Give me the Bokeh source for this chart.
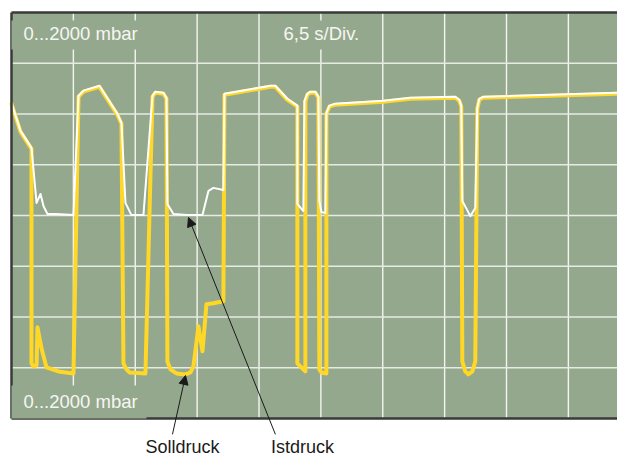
from bokeh.plotting import figure
from bokeh.models import Range1d, BoxAnnotation, Label, Arrow, NormalHead
from bokeh.embed import file_html
from bokeh.resources import INLINE

# time axis: 6,5 s per division ; pressure axis: 0...2000 mbar over 8 divisions
T_DIV = 6.5
P_DIV = 250
T_MAX = 63.66
P_MAX = 2000

# Istdruck (actual pressure, white trace)
ist_t = [0, 0.95, 2.10, 2.63, 3.05, 3.36, 3.78, 4.62, 6.51, 7.04,
         7.56, 9.24, 11.13, 11.55, 11.97, 12.60, 13.86, 14.81, 15.12, 15.96,
         16.28, 16.38, 17.01, 18.48, 20.06, 20.69, 21.21, 22.26, 22.37, 27.20,
         27.72, 28.98, 30.03, 30.03, 30.66, 30.77, 31.08, 31.40, 31.92, 32.24,
         32.34, 32.55, 32.97, 33.08, 33.39, 34.02, 39.06, 41.90, 46.62, 47.04,
         47.25, 47.36, 48.20, 48.72, 48.93, 49.14, 49.56, 63.66]
ist_p = [1555, 1417, 1333, 1062, 1106, 1047, 1007, 1007, 1002, 1590,
         1615, 1639, 1501, 1457, 1062, 1002, 1002, 1590, 1610, 1605,
         1580, 1057, 1007, 1002, 1002, 1121, 1136, 1126, 1600, 1639,
         1639, 1575, 1541, 1057, 1022, 1565, 1600, 1610, 1610, 1585,
         1072, 1017, 1012, 1506, 1541, 1551, 1565, 1580, 1585, 1570,
         1541, 1072, 997, 1037, 1531, 1575, 1585, 1605]

# Solldruck (set pressure, yellow trace)
soll_t = [0, 0.95, 2.10, 2.10, 2.31, 2.63, 2.73, 3.15, 3.67, 4.93,
          6.51, 7.04, 7.56, 9.24, 11.13, 11.55, 11.76, 12.08, 12.39, 14.07,
          14.81, 15.12, 15.96, 16.28, 16.38, 16.70, 17.33, 18.27, 18.80, 19.11,
          19.64, 20.06, 20.48, 21.21, 22.26, 22.37, 27.20, 27.72, 28.98, 30.03,
          30.03, 30.87, 30.87, 31.08, 31.40, 31.92, 32.24, 32.34, 32.55, 33.08,
          33.08, 33.39, 34.02, 39.06, 41.90, 46.62, 47.04, 47.25, 47.36, 47.67,
          47.99, 48.41, 48.72, 48.93, 49.14, 49.56, 63.66]
soll_p = [1550, 1412, 1328, 272, 257, 262, 449, 346, 252, 232,
          222, 1585, 1610, 1634, 1496, 1452, 272, 242, 227, 222,
          1585, 1605, 1600, 1575, 281, 242, 222, 217, 227, 257,
          454, 331, 563, 568, 578, 1595, 1634, 1634, 1570, 1536,
          272, 232, 1560, 1595, 1605, 1605, 1580, 242, 227, 222,
          1501, 1536, 1546, 1560, 1575, 1580, 1565, 1536, 281, 232,
          217, 232, 281, 1526, 1570, 1580, 1600]

range_label = "0...2000 mbar"
time_label = "6,5 s/Div."
soll_label = "Solldruck"
ist_label = "Istdruck"

GREEN = "#94a88e"
YELLOW = "#ffd726"
BORDER = "#3a3a3a"
INK = "#1a1a1a"
FONT = "Liberation Sans"

# whole canvas is the frame so that the notes below the screen can be drawn
p = figure(width=617, height=461, output_backend="svg", toolbar_location=None,
           x_range=Range1d(-1.156, T_MAX), y_range=Range1d(-211.8, 2059.1),
           x_axis_location=None, y_axis_location=None, min_border=0)
p.background_fill_color = "white"
p.border_fill_color = "white"
p.outline_line_color = None
p.xgrid.visible = False
p.ygrid.visible = False

# oscilloscope screen
p.add_layout(BoxAnnotation(left=0, bottom=0, top=P_MAX, fill_color=GREEN, fill_alpha=1,
                           line_color=None, level="image"))

# graticule
vx = [i * T_DIV for i in range(1, int(T_MAX // T_DIV) + 1)]
hy = [j * P_DIV for j in range(1, int(P_MAX // P_DIV))]
p.segment(x0=vx, y0=[0] * len(vx), x1=vx, y1=[P_MAX] * len(vx),
          line_color="#f4f5f0", line_width=1.4, level="underlay")
p.segment(x0=[0] * len(hy), y0=hy, x1=[T_MAX] * len(hy), y1=hy,
          line_color="#e6ebe3", line_width=1.4, level="underlay")

# traces
p.line(soll_t, soll_p, line_color=YELLOW, line_width=4, line_join="round", line_cap="round")
p.line(ist_t, ist_p, line_color="white", line_width=2, line_join="round", line_cap="round")

# screen border (left, top, bottom)
p.segment(x0=[0, 0, 0], y0=[0, P_MAX, 0], x1=[0, T_MAX, T_MAX], y1=[P_MAX, P_MAX, 0],
          line_color=BORDER, line_width=2.5)

# label backgrounds that hide the graticule
for l, r, b, t in [(0, 14.18, 1818, 1961), (27.84, 37.19, 1818, 1961), (0, 14.18, 0, 163)]:
    p.add_layout(BoxAnnotation(left=l, right=r, bottom=b, top=t,
                               fill_color=GREEN, fill_alpha=1, line_color=None))

lab_kw = dict(text_color="#f6f6f2", text_font=FONT, text_font_size="18.5px",
              text_baseline="alphabetic")
p.add_layout(Label(x=1.26, y=1896, text=range_label, **lab_kw))
p.add_layout(Label(x=28.57, y=1896, text=time_label, **lab_kw))
p.add_layout(Label(x=1.26, y=83, text=range_label, **lab_kw))

# notes below the screen
ann_kw = dict(text_color=INK, text_font=FONT, text_font_size="18px",
              text_baseline="alphabetic", text_align="center")
p.add_layout(Label(x=17.96, y=-141, text=soll_label, **ann_kw))
p.add_layout(Label(x=30.57, y=-141, text=ist_label, **ann_kw))

for xs, ys, xe, ye in [(16.91, -78, 18.28, 212), (27.72, -78, 18.59, 990)]:
    p.add_layout(Arrow(end=NormalHead(size=9, fill_color=INK, line_color=INK),
                       x_start=xs, y_start=ys, x_end=xe, y_end=ye,
                       line_color=INK, line_width=1))

open("out.html", "w").write(file_html(p, INLINE))
